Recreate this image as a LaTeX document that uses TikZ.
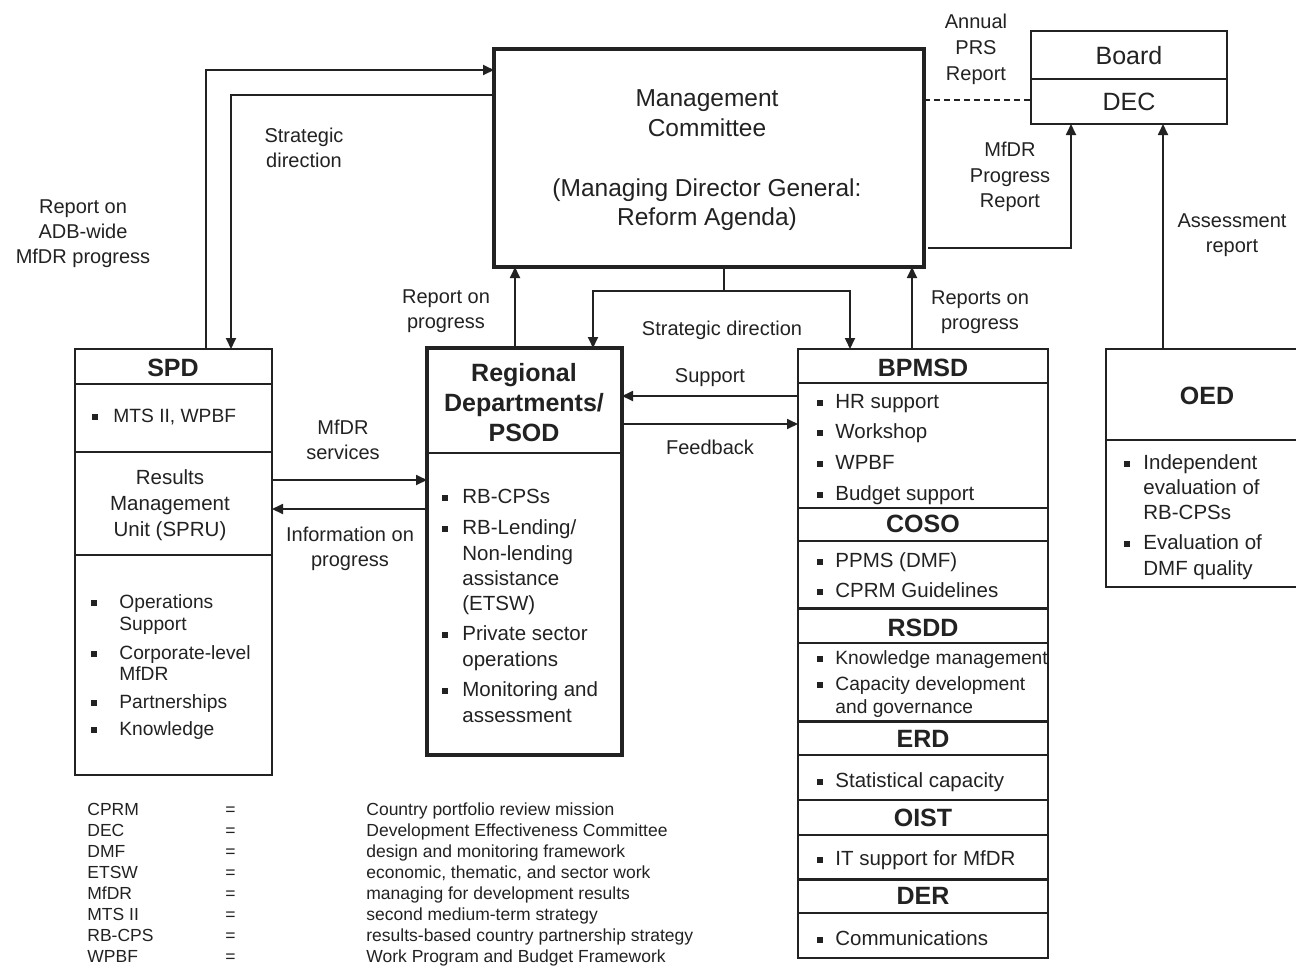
\documentclass[tikz,border=0pt]{standalone}
\usepackage{fontspec}
\setmainfont{Liberation Sans}
\usetikzlibrary{arrows.meta,calc}
\definecolor{ink}{HTML}{222222}
\newcommand\sqb[2]{\fill[ink] (#1-3,#2-3) rectangle (#1+3,#2+3);}
\begin{document}
\begin{tikzpicture}[x=0.5pt,y=-0.5pt,
  ln/.style={draw=ink,line width=0.9pt},
  arr/.style={ln,-{Triangle[length=5.5pt,width=5pt]}},
  box/.style={draw=ink,line width=0.9pt,inner sep=0pt,outer sep=0pt},
  tbox/.style={box,line width=1.9pt},
  lbl/.style={text=ink,inner sep=0pt,align=center,font=\fontsize{10}{12.5}\selectfont},
  ttl/.style={text=ink,inner sep=0pt,text height=9pt,text depth=0pt,font=\bfseries\fontsize{12.5}{15}\selectfont},
  it/.style={text=ink,inner sep=0pt,anchor=west,text height=7.2pt,text depth=0pt,font=\fontsize{10.25}{12}\selectfont},
  its/.style={it,font=\fontsize{9.6}{12}\selectfont},
  lg/.style={text=ink,inner sep=0pt,anchor=west,text height=6.3pt,text depth=0pt,font=\fontsize{8.75}{10}\selectfont}
]
\useasboundingbox (0,0) rectangle (1296,965);
\clip (0,0) rectangle (1296,965);
\fill[white] (0,0) rectangle (1296,965);

% ---------- boxes ----------
\node[tbox,minimum width=215pt,minimum height=109pt] (mc) at (709,158) {};
\node[box,minimum width=98pt,minimum height=46.5pt] (board) at (1129,77.5) {};
\node[box,minimum width=98.5pt,minimum height=213pt] (spd) at (173.5,562) {};
\node[tbox,minimum width=97.5pt,minimum height=203.5pt] (reg) at (524.5,551.5) {};
\node[box,minimum width=125pt,minimum height=304.5pt] (col) at (923,653.5) {};
\node[box,minimum width=102pt,minimum height=119pt] (oed) at (1208,468) {};

% dividers
\draw[ln] ($(board.north west)+(0,48)$) -- ($(board.north east)+(0,48)$);
\foreach \d in {35,103,206}
  \draw[ln] ($(spd.north west)+(0,\d)$) -- ($(spd.north east)+(0,\d)$);
\draw[ln,line width=1.4pt] ($(reg.north west)+(0,105)$) -- ($(reg.north east)+(0,105)$);
\foreach \d in {34,159,192,294,406,451,486,564}
  \draw[ln] ($(col.north west)+(0,\d)$) -- ($(col.north east)+(0,\d)$);
\foreach \d in {259,372,530}
  \draw[ln,line width=1.5pt] ($(col.north west)+(0,\d)$) -- ($(col.north east)+(0,\d)$);
\draw[ln] ($(oed.north west)+(0,91)$) -- ($(oed.north east)+(0,91)$);

% ---------- connectors ----------
\draw[arr] ($(spd.north west)+(131,0)$) |- ($(mc.north west)+(0,21)$);
\draw[arr] ($(mc.north west)+(0,46)$) -| ($(spd.north west)+(156,0)$);
\draw[arr] ($(reg.north west)+(88,0)$) -- ($(mc.south west)+(21,0)$);
\coordinate (sdj) at ($(mc.south west)+(230,24)$);
\draw[ln] (mc.south -| sdj) -- (sdj);
\draw[arr] (sdj) -| ($(reg.north west)+(166,0)$);
\draw[arr] (sdj) -| ($(col.north west)+(52,0)$);
\draw[arr] ($(col.north west)+(114,0)$) -- ($(mc.south west)+(418,0)$);
\draw[arr] ($(col.north west)+(0,47)$) -- ($(reg.north east)+(0,48)$);
\draw[arr] ($(reg.north east)+(0,76)$) -- ($(col.north west)+(0,75)$);
\draw[arr] ($(spd.north east)+(0,131)$) -- ($(reg.north west)+(0,132)$);
\draw[arr] ($(reg.north west)+(0,161)$) -- ($(spd.north east)+(0,160)$);
\draw[ln,dashed,dash pattern=on 3pt off 2pt] ($(mc.north east)+(0,51)$) -- ($(board.north west)+(0,69)$);
\draw[arr] ($(mc.north east)+(4,199)$) -| ($(board.south west)+(40,0)$);
\draw[arr] ($(oed.north west)+(57,0)$) -- ($(board.south west)+(132,0)$);

% ---------- connector labels ----------
\node[lbl] (l1) at (83,234) {Report on\\ADB-wide\\MfDR progress};
\node[lbl] (l2) at (304,148) {Strategic\\direction};
\node[lbl] (l3) at (446,311) {Report on\\progress};
\node[lbl] (l4) at (722,330) {Strategic direction};
\node[lbl] (l5) at (980,312) {Reports on\\progress};
\node[lbl,font=\fontsize{10}{13}\selectfont] (l6) at (976,49) {Annual\\PRS\\Report};
\node[lbl,font=\fontsize{10}{12.75}\selectfont] (l7) at (1010,177) {MfDR\\Progress\\Report};
\node[lbl] (l8) at (1232,235) {Assessment\\report};
\node[lbl] (l9) at (343,440) {MfDR\\services};
\node[lbl] (l10) at (350,549) {Information on\\progress};
\node[lbl] (l11) at (710,378) {Support};
\node[lbl] (l12) at (710,447) {Feedback};

% ---------- Management committee & Board ----------
\node[lbl,font=\fontsize{12.25}{15}\selectfont] (mc1) at (707,113) {Management\\Committee};
\node[lbl,font=\fontsize{12.25}{14.5}\selectfont] (mc2) at (707,205) {(Managing Director General:\\Reform Agenda)};
\node[lbl,font=\fontsize{12.5}{15}\selectfont,text height=9pt,text depth=0pt] (bd1) at (1129,55) {Board};
\node[lbl,font=\fontsize{12.5}{15}\selectfont,text height=9pt,text depth=0pt] (bd2) at (1129,101) {DEC};

% ---------- SPD ----------
\node[ttl] (spdt) at (173,367) {SPD};
\sqb{95}{417}
\node[its] (s1) at (113,415) {MTS II, WPBF};
\node[lbl,font=\fontsize{10.25}{13}\selectfont] (rmu) at (170,505) {Results\\Management\\Unit (SPRU)};
\sqb{94}{603}\sqb{94}{654}\sqb{94}{703}\sqb{94}{730}
\node[its] (s2) at (119,601) {Operations};
\node[its] (s3) at (119,623) {Support};
\node[its] (s4) at (119,652) {Corporate-level};
\node[its] (s5) at (119,673) {MfDR};
\node[its] (s6) at (119,701) {Partnerships};
\node[its] (s7) at (119,728) {Knowledge};

% ---------- Regional ----------
\node[ttl] (rt1) at (524,372) {Regional};
\node[ttl] (rt2) at (524,402) {Departments/};
\node[ttl] (rt3) at (524,432) {PSOD};
\sqb{445}{498}\sqb{445}{529}\sqb{445}{635}\sqb{445}{691}
\node[it] (r1) at (462,496) {RB-CPSs};
\node[it] (r2) at (462,527) {RB-Lending/};
\node[it] (r3) at (462,553) {Non-lending};
\node[it] (r4) at (462,578) {assistance};
\node[it] (r5) at (462,603) {(ETSW)};
\node[it] (r6) at (462,633) {Private sector};
\node[it] (r7) at (462,659) {operations};
\node[it] (r8) at (462,689) {Monitoring and};
\node[it] (r9) at (462,715) {assessment};

% ---------- Column ----------
\node[ttl] (bt) at (923,367) {BPMSD};
\sqb{820}{403}\sqb{820}{433}\sqb{820}{464}\sqb{820}{495}
\node[it] (b1) at (835,401) {HR support};
\node[it] (b2) at (835,431) {Workshop};
\node[it] (b3) at (835,462) {WPBF};
\node[it] (b4) at (835,493) {Budget support};
\node[ttl] (ct) at (923,523) {COSO};
\sqb{820}{562}\sqb{820}{592}
\node[it] (c1) at (835,560) {PPMS (DMF)};
\node[it] (c2) at (835,590) {CPRM Guidelines};
\node[ttl] (rst) at (923,627) {RSDD};
\sqb{820}{659}\sqb{820}{685}
\node[its] (rs1) at (835,657) {Knowledge management};
\node[its] (rs2) at (835,683) {Capacity development};
\node[its] (rs3) at (835,706) {and governance};
\node[ttl] (et) at (923,738) {ERD};
\sqb{820}{782}
\node[it] (e1) at (835,780) {Statistical capacity};
\node[ttl] (ot) at (923,817) {OIST};
\sqb{820}{860}
\node[it] (o1) at (835,858) {IT support for MfDR};
\node[ttl] (dt) at (923,895) {DER};
\sqb{820}{940}
\node[it] (d1) at (835,938) {Communications};

% ---------- OED ----------
\node[ttl] (oedt) at (1207,395) {OED};
\sqb{1127}{464}\sqb{1127}{544}
\node[it] (oe1) at (1143,462) {Independent};
\node[it] (oe2) at (1143,487) {evaluation of};
\node[it] (oe3) at (1143,512) {RB-CPSs};
\node[it] (oe4) at (1143,542) {Evaluation of};
\node[it] (oe5) at (1143,568) {DMF quality};

% ---------- Legend ----------
\foreach [count=\i] \a/\d in {CPRM/Country portfolio review mission,
  DEC/Development Effectiveness Committee,
  DMF/design and monitoring framework,
  ETSW/{economic, thematic, and sector work},
  MfDR/managing for development results,
  MTS II/second medium-term strategy,
  RB-CPS/results-based country partnership strategy,
  WPBF/Work Program and Budget Framework} {
  \node[lg] (la\i) at (87,788+21*\i) {\a};
  \node[lg] (le\i) at (225,788+21*\i) {=};
  \node[lg] (ld\i) at (366,788+21*\i) {\d};
}
\end{tikzpicture}
\end{document}
